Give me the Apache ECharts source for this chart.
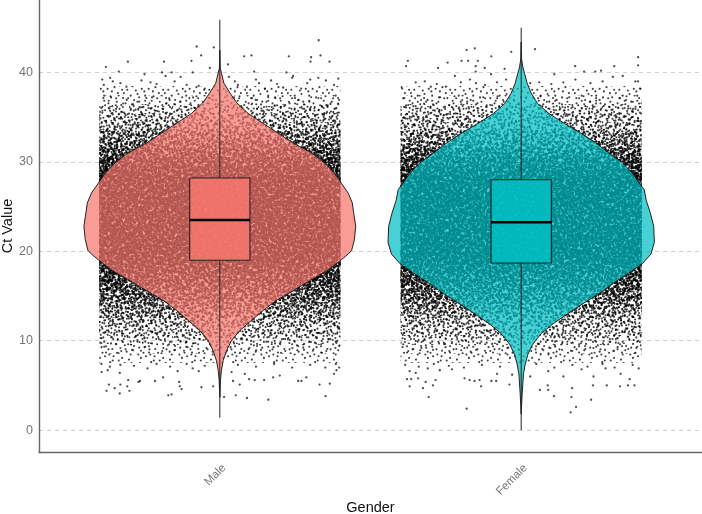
<!DOCTYPE html>
<html>
<head>
<meta charset="utf-8">
<style>html,body{margin:0;padding:0;background:#fff}#chart{width:702px;height:514px}</style>
<script src="https://cdn.jsdelivr.net/npm/echarts@6/dist/echarts.min.js"></script>
</head>
<body>
<div id="chart"></div>
<script>
const categories = ['Male', 'Female'];
const yTicks = [0, 10, 20, 30, 40];

// Violin outlines: Ct level and relative density (1 = widest of both groups).
const maleViolinCt = [42.5,40.5,38.8,37.7,36.6,35.4,34.3,33.2,32.1,31,29.9,28.7,27.6,26.5,25.4,24.3,22.8,21.3,20.1,19.7,19,17.8,16.7,15.6,14.5,13.4,12.3,11.1,10,8.9,7.8,6.7,5.6,4.4,3.7];
const maleViolinDensity = [0,.003,.03,.075,.125,.21,.32,.43,.54,.675,.77,.845,.895,.945,.975,.985,1,.99,.97,.945,.89,.785,.66,.54,.415,.32,.235,.145,.085,.05,.025,.012,.005,.002,0];
const femaleViolinCt = [43.4,41.5,40.6,39.9,38.8,37.7,36.5,35.4,34.3,33.2,32.1,31,29.9,28.7,27.6,26.9,25.7,24.3,22.8,21,19.7,18.6,17.5,16.4,15.2,14.1,13,11.9,10.8,9.6,8.5,7.4,6.3,4,1.8];
const femaleViolinDensity = [0,.003,.012,.025,.044,.073,.122,.205,.318,.44,.55,.645,.745,.82,.87,.905,.92,.95,.975,.98,.955,.89,.785,.675,.565,.45,.34,.235,.147,.085,.05,.03,.017,.007,0];

// Box summaries: [low whisker, Q1, median, Q3, high whisker].
const maleBox = [1.4, 19, 23.5, 28.2, 45.9];
const femaleBox = [0, 18.7, 23.25, 28, 45];

// Relative density of the jittered cloud, per 1-unit Ct bin.
const cloudCt = [8,9,10,11,12,13,14,15,16,17,18,19,20,21,22,23,24,25,26,27,28,29,30,31,32,33,34,35,36,37,38];
const maleCloud = [.025,.05,.08,.13,.19,.27,.36,.46,.56,.66,.8,.95,1,1,1,1,1,1,1,1,1,.85,.68,.54,.42,.32,.23,.16,.1,.05,.025];
const femaleCloud = [.025,.05,.08,.12,.18,.25,.34,.44,.54,.64,.78,.95,1,1,1,1,1,1,1,1,1,.82,.64,.5,.38,.28,.2,.14,.09,.05,.025];

// Points that stand clear of the cloud: offset (hundredths of a category), Ct.
const maleJitter = [
-37.8,40.6,-33.5,40.1,-30.5,41.2,-18.5,41.2,-9.4,41.3,-7.7,42.9,-2,42.8,-6.2,41.9,-3.3,40.5,2.7,40.9,8.1,41.8,10.5,41.9,22.9,41.8,32.8,43.6,33.4,41.9,30.3,41.7,30.1,41.2,36.4,41.2,11.4,40.1,22.1,40,24.3,39.6,24,39.4,30,39.2,32.7,39.4,35.2,39.1,39.3,39.3,37.9,38.6,
-39,39.2,-38.5,38.6,-36.4,39.4,-35.5,39,-33,38.8,-31,38.4,-26,39.1,-25,39.8,-23,38.9,-21,38.7,-19.2,40,-18,39.6,-16,40,-15,39,-13,39.5,-11,38.6,-9,40,-7,38.5,-5,38.2,3,39.5,5,39,6,38.6,9,38.4,12,39.2,13,38.8,15,38.2,17,39.1,19,38.7,21,38.3,27,38.2,29,38.8,
-37.6,4.4,-36.8,5.1,-34.9,4.7,-33.2,4.1,-33,5.1,-30.7,4.9,-30,4.4,-30.4,5.6,-17.1,3.9,-16,4,-13.5,5.4,-13.3,4.9,-12.7,4.6,-6.1,4.8,-2.2,4.9,1.4,3.7,5.3,3.9,9,3.6,16.1,3.4,35.1,3.8,36.5,5.2,33.1,5.1,26,5.5,27.1,5.5,28.7,5.9,-39.2,6.5,-37.2,6.7,-33.2,6.4,37.9,6.3,39.6,7,38.7,6.7,3.9,6.5,4.4,5.5,6.6,5.1,8.3,6.3,9.7,5.7,11.6,5.6,14.7,5.6,17.7,5.9,19.9,6.1,-26.5,5.5,-27,5.4,-21.5,5.5,-18.8,5.9,-24,6.9,-14,6.6,-9,6.9,-7,6.6,
-39.3,7.4,-36.5,7.1,-33,7.3,-28.5,7.2,-21,7.4,-16.5,7.1,-11,7.4,-5,7.2,6,7.3,12,7.1,18,7.4,24,7,30,7.3,35,7,38.5,7.4
];
const femaleJitter = [
-37.6,41.3,-38.2,40.7,-24.4,41.1,-18.1,42.5,-15.4,42.7,-19.8,41.3,-17.6,41.3,-14.4,41.3,-9.9,41.8,-3.3,42.3,4.6,42.6,-15.1,40.7,-12.1,40.5,-15.1,40.1,-27.6,40.5,-5.5,40.4,38.8,41.7,38.8,40.8,30.9,40.7,17.9,40.7,20.9,40.1,24.6,40.1,26.5,40.2,33.7,39.6,30.4,39.5,37.9,39,38.8,39,39.4,38.2,
-39.5,38.2,-35,38.9,-32,39,-30,38.4,-28,38.7,-25,38.4,-22,39.6,-20,38.9,-17,39.2,-15,38.8,-12,38.6,-10,39.8,-8,38.9,-5,39.2,3,38.8,6,38.9,10,38.7,11,39.8,14,38.9,18,39.2,23,38.8,27,39,
-30.7,3.7,-18.1,2.4,-37,4.9,-32.6,4.7,16.4,2,18.2,2.6,23.2,3.4,16.7,3.7,10.9,3.8,16.9,4.7,6.2,4.5,8.8,5,9,4.5,23.8,5,28.4,5,32.8,4.9,35.4,5,37.6,5,-13.3,4.9,-37.9,5.7,-36.5,5.7,-34.2,5.8,-31.7,5.4,-29.3,5,-28.4,5.6,-18.8,5.8,-17.1,5.6,-15.5,5.5,-13.8,5.6,-9.9,5.5,-8.3,5.5,-3.9,5.1,
-37,6.6,-35,6.4,-31,6.9,-27,6.7,-23,6.8,-8,6.3,-3,6.2,3,6,9,6.6,14,6,20,6.8,24,6,28,6.9,33,6.3,36,5.7,39,6.9,
-38.5,7.3,-34,7.1,-29,7.4,-24,7.2,-19,7,-13,7.3,-7,7.1,5,7.4,11,7,17,7.3,22,7.1,27,7.4,31,7,37,7.3
];

// Speck layout used to stipple the cloud: x, y pairs on a 48-unit tile.
const cloudGrain = [3,2,11,5,14,1,22,8,29,3,35,11,44,4,47,9,1,13,6,19,17,14,19,23,26,16,31,25,40,19,46,27,9,31,12,26,21,35,24,29,37,33,43,38,2,41,7,37,16,44,20,41,28,46,33,40,39,45,45,43,5,9,9,16,15,10,25,11,30,8,38,6,42,13,3,25,13,21,18,31,27,33,34,18,41,29,8,45,23,47,36,38,47,35,10,41,32,31,20,2,26,22];

const MAX_LAYERS = 40;
const TILE_SIZES = [41, 43, 47, 53, 59, 61, 67, 71];
const JITTER_HALF_WIDTH = 0.4;
const VIOLIN_SCALE = 0.451;
const BOX_HALF_WIDTH = 0.1;
const fills = [
  { violin: 'rgba(248,118,109,0.72)', box: 'rgba(248,118,109,0.85)' },
  { violin: 'rgba(0,191,196,0.72)', box: 'rgba(0,191,196,0.85)' }
];

// Each layer stipples the strip once; stacking layers darkens it with density.
const layerFills = [];
for (let i = 0; i < MAX_LAYERS; i++) {
  const size = TILE_SIZES[i % TILE_SIZES.length];
  const tile = document.createElement('canvas');
  tile.width = tile.height = size;
  const ctx = tile.getContext('2d');
  ctx.fillStyle = 'rgba(0,0,0,0.75)';
  const scale = size / 48;
  for (let k = 0; k < cloudGrain.length; k += 2) {
    const a = cloudGrain[k] * scale + i * 13, b = cloudGrain[k + 1] * scale + i * 29;
    const px = (i % 2 ? b : a) % size, py = (i % 2 ? a : b) % size;
    ctx.beginPath();
    ctx.arc(px, py, 1.05, 0, Math.PI * 2);
    ctx.fill();
  }
  layerFills.push({ image: tile, repeat: 'repeat' });
}

function jitterPoints(flat, group) {
  const out = [];
  for (let i = 0; i < flat.length; i += 2) out.push([group + flat[i] / 100, flat[i + 1]]);
  return out;
}

const cloudRows = [];
cloudCt.forEach((ct, i) => {
  cloudRows.push([1, ct, maleCloud[i]]);
  cloudRows.push([2, ct, femaleCloud[i]]);
});

function renderCloud(params, api) {
  const g = api.value(0), ct = api.value(1);
  const a = api.coord([g - JITTER_HALF_WIDTH, ct + 0.5]);
  const b = api.coord([g + JITTER_HALF_WIDTH, ct - 0.5]);
  const top = Math.round(a[1]), bottom = Math.round(b[1]);
  const n = Math.max(1, Math.round(api.value(2) * MAX_LAYERS));
  const children = [];
  for (let i = 0; i < n; i++) {
    children.push({
      type: 'rect', silent: true,
      shape: { x: a[0], y: top, width: b[0] - a[0], height: bottom - top },
      style: { fill: layerFills[i] }
    });
  }
  return { type: 'group', silent: true, children };
}

const violins = [
  { ct: maleViolinCt, density: maleViolinDensity },
  { ct: femaleViolinCt, density: femaleViolinDensity }
];

function renderViolin(params, api) {
  const g = api.value(0);
  const v = violins[g - 1];
  const pts = [];
  v.ct.forEach((ct, i) => pts.push(api.coord([g - v.density[i] * VIOLIN_SCALE, ct])));
  for (let i = v.ct.length - 1; i >= 0; i--) pts.push(api.coord([g + v.density[i] * VIOLIN_SCALE, v.ct[i]]));
  return {
    type: 'polygon', silent: true,
    shape: { points: pts },
    style: { fill: fills[g - 1].violin, stroke: '#222', lineWidth: 1 }
  };
}

function renderBox(params, api) {
  const g = api.value(0);
  const x = api.coord([g, 0])[0];
  const l = api.coord([g - BOX_HALF_WIDTH, 0])[0];
  const r = api.coord([g + BOX_HALF_WIDTH, 0])[0];
  const y = [1, 2, 3, 4, 5].map(d => api.coord([g, api.value(d)])[1]);
  const ink = '#222';
  return {
    type: 'group', silent: true,
    children: [
      { type: 'line', shape: { x1: x, y1: y[0], x2: x, y2: y[1] }, style: { stroke: ink, lineWidth: 1 } },
      { type: 'line', shape: { x1: x, y1: y[3], x2: x, y2: y[4] }, style: { stroke: ink, lineWidth: 1 } },
      { type: 'rect', shape: { x: l, y: y[3], width: r - l, height: y[1] - y[3] }, style: { fill: fills[g - 1].box, stroke: ink, lineWidth: 1.1 } },
      { type: 'line', shape: { x1: l, y1: y[2], x2: r, y2: y[2] }, style: { stroke: '#000', lineWidth: 2.4 } }
    ]
  };
}

const chart = echarts.init(document.getElementById('chart'), null, { renderer: 'canvas' });
const FONT = '"Liberation Sans", Arial, sans-serif';
chart.setOption({
  animation: false,
  backgroundColor: '#fff',
  grid: { left: 39, right: 0, top: 0, bottom: 62, outerBoundsMode: 'none' },
  xAxis: {
    type: 'value', min: 0.4, max: 2.6,
    name: 'Gender', nameLocation: 'middle', nameGap: 48, nameMoveOverlap: false,
    nameTextStyle: { color: '#111', fontSize: 14.5, fontFamily: FONT },
    axisLine: { show: true, onZero: false, lineStyle: { color: '#666', width: 1.4 } },
    axisTick: { show: false, customValues: [1, 2] },
    splitLine: { show: false },
    axisLabel: {
      customValues: [1, 2], rotate: 45, margin: 10, verticalAlign: 'top', color: '#757575', fontSize: 11.5, fontFamily: FONT,
      formatter: v => categories[v - 1]
    }
  },
  yAxis: {
    type: 'value', min: -2.44, max: 48.1,
    name: 'Ct Value', nameLocation: 'middle', nameGap: 24, nameMoveOverlap: false,
    nameTextStyle: { color: '#111', fontSize: 14.5, fontFamily: FONT },
    axisLine: { show: true, onZero: false, lineStyle: { color: '#666', width: 1.4 } },
    axisTick: { show: false, customValues: yTicks },
    splitLine: { show: true, lineStyle: { color: '#cfcfcf', type: [4, 4], width: 1 } },
    axisLabel: { customValues: yTicks, margin: 6, color: '#757575', fontSize: 12.5, fontFamily: FONT }
  },
  series: [
    { type: 'custom', z: 2, renderItem: renderCloud, data: cloudRows, encode: { x: 0, y: 1 } },
    { type: 'scatter', z: 3, name: categories[0], symbolSize: 2.3, silent: true, itemStyle: { color: '#000', opacity: 0.7 }, data: jitterPoints(maleJitter, 1) },
    { type: 'scatter', z: 3, name: categories[1], symbolSize: 2.3, silent: true, itemStyle: { color: '#000', opacity: 0.7 }, data: jitterPoints(femaleJitter, 2) },
    { type: 'custom', z: 4, renderItem: renderViolin, data: [[1], [2]], encode: { x: 0 } },
    { type: 'custom', z: 5, renderItem: renderBox, data: [[1, ...maleBox], [2, ...femaleBox]], encode: { x: 0 } }
  ]
});
</script>
</body>
</html>
